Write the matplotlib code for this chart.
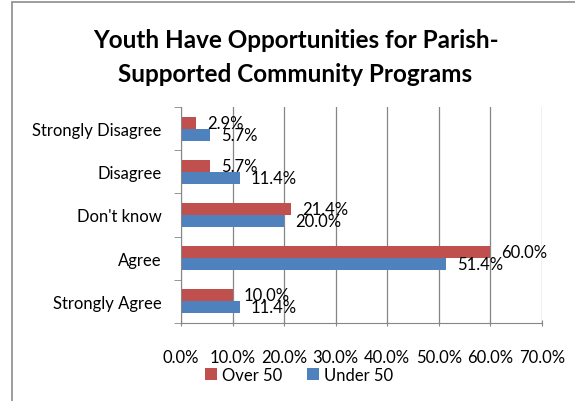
import matplotlib.pyplot as plt
from matplotlib.patches import Rectangle
import numpy as np

categories = ['Strongly Agree', 'Agree', "Don't know", 'Disagree', 'Strongly Disagree']
over_50 = [10.0, 60.0, 21.4, 5.7, 2.9]
under_50 = [11.4, 51.4, 20.0, 11.4, 5.7]

red = '#C0504D'
blue = '#4F81BD'
plt.rcParams['font.family'] = ['Lato', 'DejaVu Sans']
fs = 12

fig = plt.figure(figsize=(5.75, 4.02), dpi=100)
# chart border
fig.patches.append(Rectangle((12 / 575, -0.1), 1.2, 1 - 3 / 402 + 0.1,
                             transform=fig.transFigure, fill=False,
                             edgecolor='#8c8c8c', linewidth=1.2))

ax = fig.add_axes([181 / 575, 1 - 324 / 402, 361 / 575, 216 / 402])
y = np.arange(len(categories))
h = 0.28
b1 = ax.barh(y + h / 2, over_50, height=h, color=red, label='Over 50')
b2 = ax.barh(y - h / 2, under_50, height=h, color=blue, label='Under 50')

for rect, v in zip(b1, over_50):
    ax.annotate(f'{v:.1f}%', (rect.get_width(), rect.get_y() + rect.get_height() / 2),
                xytext=(8, 0), textcoords='offset points', va='center', ha='left',
                fontsize=fs)
for rect, v in zip(b2, under_50):
    ax.annotate(f'{v:.1f}%', (rect.get_width(), rect.get_y() + rect.get_height() / 2),
                xytext=(8, 0), textcoords='offset points', va='center', ha='left',
                fontsize=fs)

ax.set_xlim(0, 70)
ax.set_ylim(-0.5, len(categories) - 0.5)
ax.set_xticks(np.arange(0, 71, 10))
ax.set_xticklabels([f'{t:.1f}%' for t in np.arange(0, 71, 10)], fontsize=fs)
ax.set_yticks(y)
ax.set_yticklabels(categories, fontsize=fs)
ax.set_yticks(np.arange(-0.5, len(categories), 1), minor=True)
ax.tick_params(axis='y', which='major', length=0, pad=14)
ax.tick_params(axis='y', which='minor', length=5, color='#868686', direction='out')
ax.tick_params(axis='x', length=5, color='#868686', direction='inout', pad=16)
ax.grid(axis='x', color='#868686', linewidth=0.9)
ax.set_axisbelow(True)
for s in ['top', 'right']:
    ax.spines[s].set_visible(False)
for s in ['left', 'bottom']:
    ax.spines[s].set_color('#868686')

fig.text(0.514, 1 - 40 / 402, 'Youth Have Opportunities for Parish-', ha='center', va='center',
         fontsize=17.5, fontweight='bold')
fig.text(0.514, 1 - 75 / 402, 'Supported Community Programs', ha='center', va='center',
         fontsize=17.5, fontweight='bold')

fig.legend(handles=[b1, b2], loc='center', bbox_to_anchor=(0.52, 1 - 376 / 402), ncol=2,
           frameon=False, fontsize=fs, handlelength=0.7, handleheight=0.7,
           handletextpad=0.3, columnspacing=1.5)

fig.savefig('out.png', dpi=100)
